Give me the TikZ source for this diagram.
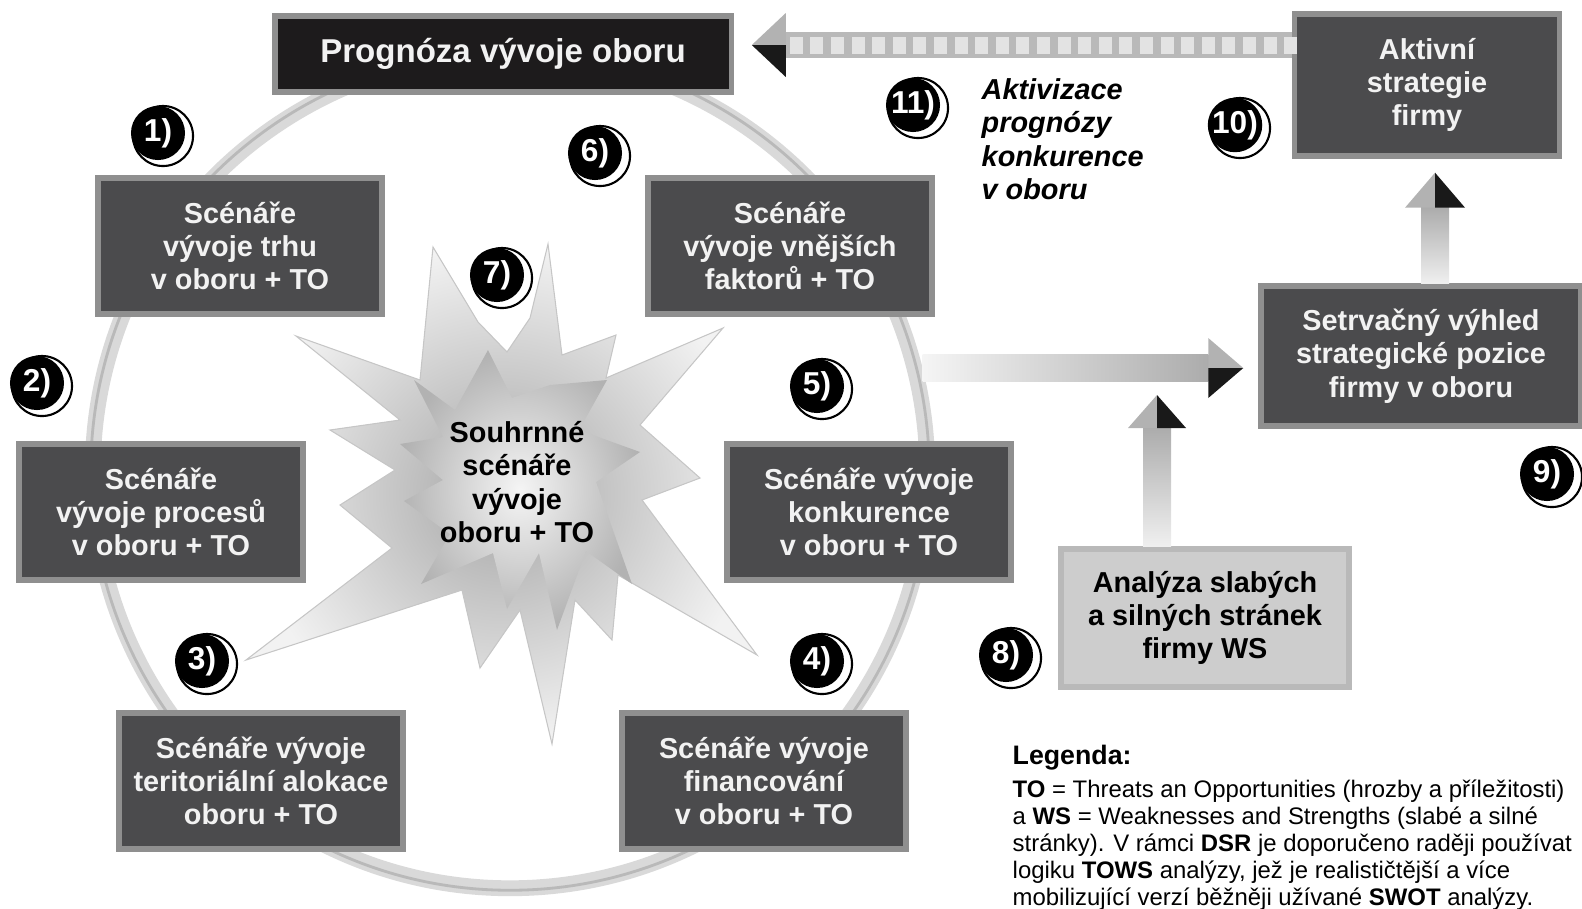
\documentclass[tikz,border=0pt]{standalone}
\usepackage{fontspec}
\setmainfont{Liberation Sans}
\usetikzlibrary{positioning, calc}

\definecolor{boxgray}{HTML}{4B4B4D}
\definecolor{rimgray}{HTML}{8F8F8F}
\definecolor{topblack}{HTML}{1D1B1C}
\definecolor{lightbox}{HTML}{CDCDCD}

\tikzset{
  scen/.style={rectangle, fill=boxgray, draw=rimgray, line width=1.5pt, text=white!95!black,
    font=\fontsize{8.2}{9.45}\selectfont\bfseries, align=center,
    minimum width=2.84cm, minimum height=1.36cm, inner sep=0pt},
  badge/.style={circle, fill=black, text=white, font=\fontsize{9}{10}\selectfont\bfseries,
    minimum size=0.54cm, inner sep=0pt},
  ringmark/.style={draw=black, fill=white, line width=0.6pt},
  lighthead/.style={fill=gray!60},
  darkhead/.style={fill=black!90},
}

\begin{document}
\begin{tikzpicture}[x=0.01cm, y=-0.01cm]
\useasboundingbox (0,0) rectangle (1582,908);

\node[circle, draw=gray!30, line width=4.5pt, minimum size=8.34cm, inner sep=0pt] (ring) at (510,471) {};
\draw[gray!55, line width=0.8pt] (ring.center) circle (4.19cm);

\shade[inner color=gray!70, outer color=gray!10, draw=gray!45, line width=0.3pt]
  (433,247) -- (478,322) -- (507,352) -- (530,318) -- (548,244) -- (562,355) -- (616,335)
  -- (606,378) -- (723,328) -- (640,425) -- (700,478) -- (642,500) -- (757,655) -- (618,575)
  -- (612,640) -- (575,600) -- (552,744) -- (520,610) -- (480,668) -- (462,590) -- (246,660)
  -- (392,548) -- (340,505) -- (395,470) -- (330,430) -- (400,420) -- (296,336) -- (420,380) -- cycle;
\shade[inner color=gray!8, outer color=gray!60]
  (414,380) -- (455,410) -- (488,350) -- (512,398) -- (550,385) -- (607,380) -- (579,430)
  -- (640,452) -- (596,482) -- (632,584) -- (586,551) -- (557,630) -- (539,553) -- (507,609)
  -- (493,553) -- (421,584) -- (450,534) -- (404,501) -- (443,480) -- (400,444) -- (443,437) -- cycle;
\node[align=center, font=\fontsize{8.2}{9.45}\selectfont\bfseries] (sum) at (517,482) {Souhrnné\\scénáře\\vývoje\\oboru + TO};

\node[scen, fill=topblack, minimum width=4.56cm, minimum height=0.76cm, font=\fontsize{9.4}{11}\selectfont\bfseries] (prog) at (503,54) {Prognóza vývoje oboru};
\node[scen, minimum width=2.65cm, minimum height=1.42cm] (akt) at (1427,85) {Aktivní\\strategie\\firmy};
\node[scen, minimum width=3.2cm, minimum height=1.4cm] (setr) at (1421,356) {Setrvačný výhled\\strategické pozice\\firmy v oboru};
\node[scen, fill=lightbox, draw=gray!55, text=black, minimum width=2.88cm, minimum height=1.38cm] (anal) at (1205,618) {Analýza slabých\\a silných stránek\\firmy WS};

\coordinate (tt) at ($(prog.east)+(18,-9)$);
\coordinate (ts) at (akt.west |- tt);
\fill[gray!55] ($(ts)+(0,-13)$) rectangle ($(tt)+(34,13)$);
\foreach \i in {0,...,24}
  \fill[gray!22] ($(tt)+(38+\i*20.6,-8)$) rectangle ++(13,17);
\fill[lighthead] (tt) -- ($(tt)+(34,-32)$) -- ($(tt)+(34,0)$) -- cycle;
\fill[darkhead] (tt) -- ($(tt)+(34,32)$) -- ($(tt)+(34,0)$) -- cycle;

\coordinate (ht) at ($(setr.west)+(-15,12)$);
\coordinate (hs) at (ring.14 |- ht);
\shade[left color=gray!8, right color=gray!65] ($(hs)+(0,-14)$) rectangle ($(ht)+(-35,13)$);
\fill[lighthead] (ht) -- ($(ht)+(-35,-30)$) -- ($(ht)+(-35,0)$) -- cycle;
\fill[darkhead] (ht) -- ($(ht)+(-35,30)$) -- ($(ht)+(-35,0)$) -- cycle;

\coordinate (vt) at (1157,395);
\coordinate (vs) at (vt |- anal.north);
\shade[top color=gray!65, bottom color=gray!12] ($(vs)+(-14,0)$) rectangle ($(vt)+(14,33)$);
\fill[lighthead] (vt) -- ($(vt)+(-29,33)$) -- ($(vt)+(0,33)$) -- cycle;
\fill[darkhead] (vt) -- ($(vt)+(29,33)$) -- ($(vt)+(0,33)$) -- cycle;

\coordinate (ut) at ($(akt.south)+(8,14)$);
\coordinate (us) at (ut |- setr.north);
\shade[top color=gray!65, bottom color=gray!12] ($(us)+(-14,0)$) rectangle ($(ut)+(14,35)$);
\fill[lighthead] (ut) -- ($(ut)+(-30,35)$) -- ($(ut)+(0,35)$) -- cycle;
\fill[darkhead] (ut) -- ($(ut)+(30,35)$) -- ($(ut)+(0,35)$) -- cycle;

\node[scen] (trh) at (240,246) {Scénáře\\vývoje trhu\\v oboru + TO};
\node[scen] (vnej) at (790,246) {Scénáře\\vývoje vnějších\\faktorů + TO};
\node[scen] (proc) at (161,512) {Scénáře\\vývoje procesů\\v oboru + TO};
\node[scen] (konk) at (869,512) {Scénáře vývoje\\konkurence\\v oboru + TO};
\node[scen] (teri) at (261,781) {Scénáře vývoje\\teritoriální alokace\\oboru + TO};
\node[scen] (fin) at (764,781) {Scénáře vývoje\\financování\\v oboru + TO};

\foreach \n/\x/\y in {1/158/133, 2/37/383, 3/202/661, 4/817/661, 5/817/386, 6/595/153,
    7/497/275, 8/1006/655, 9/1547/474, 10/1235/125, 11/913/105} {
  \draw[ringmark] (\x+5,\y+3) circle (0.3cm);
  \node[badge] (b\n) at (\x,\y) {\n)};
}

\node[anchor=north west, inner sep=0pt, align=left, font=\fontsize{8.2}{9.45}\selectfont\bfseries\itshape] (aktiv) at (981,78) {Aktivizace\\prognózy\\konkurence\\v oboru};

\node[anchor=north west, inner sep=0pt, font=\fontsize{7.6}{9}\selectfont\bfseries] (leghead) at (1012,744) {Legenda:};
\node[anchor=north west, inner sep=0pt, align=left, font=\fontsize{6.8}{7.7}\selectfont] (legtext) at (1012,779)
  {\textbf{TO} = Threats an Opportunities (hrozby a příležitosti)\\
   a \textbf{WS} = Weaknesses and Strengths (slabé a silné\\
   stránky). V rámci \textbf{DSR} je doporučeno raději používat\\
   logiku \textbf{TOWS} analýzy, jež je realističtější a více\\
   mobilizující verzí běžněji užívané \textbf{SWOT} analýzy.};
\end{tikzpicture}
\end{document}
